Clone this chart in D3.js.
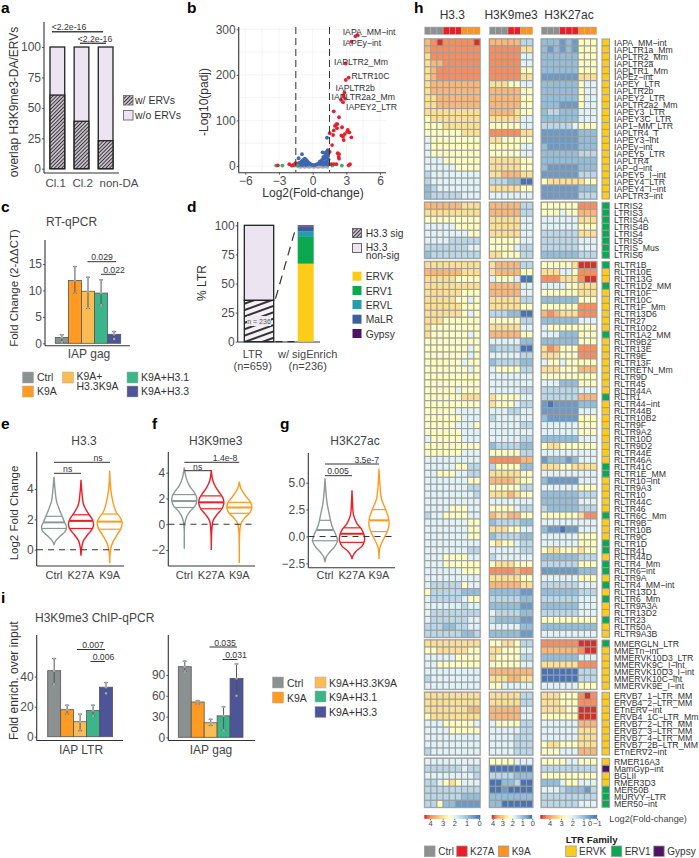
<!doctype html>
<html>

<head>
    <meta charset="utf-8">
    <title>H3K9me3 ERV figure</title>
    <style>
        body { margin: 0; background: #fff; }
        text { font-family: "Liberation Sans", Arial, sans-serif; }
        .axis text { font-size: 12px; fill: #4d4d4d; }
        .axis line { stroke: #333; stroke-width: 0.8; }
    </style>
</head>

<body>
    <div id="chart"></div>
    <script src="https://cdnjs.cloudflare.com/ajax/libs/d3/7.8.5/d3.min.js"></script>
    <script>
        // panel a
        var overlapCats = ["Cl.1", "Cl.2", "non-DA"];
        var overlapWithErv = [60.5, 39, 23];

        // panel b, [log2fc, -log10 padj]
        var volcanoRed = [[3.81, 285], [4.02, 287], [3.45, 273], [2.95, 225], [3.21, 194], [2.95, 189], [2.83, 161], [2.74, 154], [2.53, 145], [2.89, 148], [2.71, 140], [1.88, 120], [2.35, 107], [2.11, 92], [1.99, 88], [2.2, 92], [2.17, 83], [2.62, 85], [1.88, 78], [1.52, 72], [3.13, 79], [3.27, 74], [3.07, 75], [2.86, 70], [2.56, 67], [1.82, 68], [2.77, 57], [2.71, 64], [3.45, 63], [1.73, 46], [1.52, 31], [2.23, 28], [2.35, 26], [2.32, 20], [2.35, 16], [-2.08, 4], [-1.76, 2], [-1.55, 6], [-3.1, 1.5], [1.67, 4], [1.88, 4], [2.11, 4], [3.21, 1.5], [3.33, 4], [-1.85, 1]];
        var volcanoBlue = [[-1.25, 17], [-0.95, 26], [1.28, 62], [0.89, 30], [1.34, 35], [1.22, 31], [1.1, 28], [1.3, 26], [1.15, 22], [0.95, 20], [1.05, 16], [0.85, 14], [1.25, 18], [1.4, 30], [1.38, 22], [1.42, 14], [1.2, 10], [1, 8], [0.8, 8], [0.65, 10], [0.55, 6], [0.4, 4], [0.7, 4], [0.95, 3], [1.2, 4], [1.4, 6], [1.35, 3], [0.3, 3], [0.15, 2], [-1.4, 4], [-1.25, 6], [-1.1, 8], [-0.95, 11], [-0.8, 14], [-0.7, 16], [-0.6, 14], [-0.5, 11], [-0.4, 8], [-0.3, 6], [-0.2, 4], [-0.1, 3], [-1.1, 3], [-0.9, 5], [-0.7, 8], [-0.75, 4], [-0.5, 5], [-0.35, 3], [-1.3, 2], [-0.6, 2], [0.05, 2], [-0.9, 2]];
        var volcanoGreen = [[-3.25, 1], [-2.7, 1], [-1.6, 1], [-1.4, 2], [1.75, 1], [2.6, 1]];
        var volcanoGray = [[-1.3, -1], [-1.1, -2], [-0.9, -1], [-0.7, -2], [-0.5, -1], [-0.3, -2], [-0.1, -1], [0.1, -2], [0.3, -1], [0.5, -2], [0.7, -1], [0.9, -2], [1.1, -1], [1.3, -2]];
        var volcanoLabels = ["IAPA_MM−int", "IAPEy−int", "IAPLTR2_Mm", "RLTR10C", "IAPLTR2b", "IAPLTR2a2_Mm", "IAPEY2_LTR"];

        // panel c
        var treatments = ["Ctrl", "K9A", "K9A+H3.3K9A", "K9A+H3.1", "K9A+H3.3"];
        var rtValues = [1.1, 11.9, 9.85, 9.5, 1.7];
        var rtHigh = [1.6, 14.5, 12.5, 12, 2.2];
        var rtLow = [0.2, 9.45, 6.6, 7.2, 0.8];

        // panel d
        var familyNames = ["ERVK", "ERV1", "ERVL", "MaLR", "Gypsy"];
        var familyShares = [67, 23, 5, 4, 1];
        var ltrSig = 35.5;

        // panels e, f, g: violin outlines as [value, relative width], and quartiles
        var violinNames = ["Ctrl", "K27A", "K9A"];
        var h33Shapes = [
            [[4.8, 0], [4, .08], [3.2, .2], [2.6, .45], [2.2, .65], [1.8, .85], [1.5, 1], [1.2, .9], [.9, .5], [.6, .15], [.35, 0]],
            [[4.6, 0], [3.8, .07], [3, .2], [2.5, .5], [2.2, .75], [1.9, .95], [1.6, 1], [1.3, .85], [1, .55], [.6, .2], [.2, .07], [-.4, 0]],
            [[5.2, 0], [4, .08], [3, .3], [2.5, .5], [2.1, .85], [1.8, 1], [1.4, .9], [1, .6], [.5, .25], [0, .07], [-.9, 0]]
        ];
        var h33Quart = [[2.2, 1.8, 1.4], [2.3, 1.9, 1.4], [2.35, 1.85, 1.35]];
        var k9Shapes = [
            [[4.4, 0], [3.6, .15], [3, .4], [2.6, .7], [2.2, .95], [1.8, 1], [1.4, .85], [1, .45], [.6, .2], [.1, .05], [-1.9, 0]],
            [[4.2, 0], [3.4, .12], [2.8, .4], [2.4, .7], [2, .95], [1.6, 1], [1.2, .85], [.8, .5], [.3, .15], [-.3, .05], [-2, 0]],
            [[3.3, 0], [2.8, .12], [2.2, .5], [1.7, .9], [1.3, 1], [.9, .85], [.5, .45], [.1, .15], [-.4, .05], [-3, 0]]
        ];
        var k9Quart = [[2.3, 1.8, 1.3], [2.2, 1.7, 1.2], [1.7, 1.3, .85]];
        var k27Shapes = [
            [[5.4, 0], [4, .08], [3, .18], [2, .35], [1, .55], [.2, .85], [-.4, 1], [-.9, .8], [-1.5, .35], [-1.9, .1], [-2.4, 0]],
            [[4.3, 0], [3, .05], [2, .12], [1.2, .4], [.7, .75], [.2, .95], [-.4, 1], [-.9, .8], [-1.4, .3], [-1.8, .08], [-2.1, 0]],
            [[6.3, 0], [5, .06], [3.5, .2], [2.6, .5], [1.8, .75], [1, .8], [.3, .6], [-.4, .3], [-1, .08], [-2.1, 0]]
        ];
        var k27Quart = [[1.5, .6, -.4], [.8, .25, -.55], [2.5, 1.5, .45]];

        // panel i
        var ltrValues = [44, 18, 10, 17.5, 33];
        var ltrHigh = [52, 21, 15, 21, 36];
        var ltrLow = [35, 15, 4, 14, 29];
        var gagValues = [102, 51, 21, 31, 85];
        var gagHigh = [110, 53, 26, 44, 106];
        var gagLow = [95, 48, 17, 10, 60];

        // panel h, one string per row, one digit per cell: binned log2 fold change, 0 low to 9 high
        var blockSizes = [23, 8, 54, 7, 9, 7];
        var rowNames = [
            "IAPA_MM−int", "IAPLTR1a_Mm", "IAPLTR2_Mm", "IAPLTR2a", "IAPLTR1_Mm", "IAPEz−int", "IAPEY_LTR", "IAPLTR2b", "IAPEY2_LTR", "IAPLTR2a2_Mm", "IAPEY3_LTR", "IAPEY3C_LTR", "IAP1−MM_LTR", "IAPLTR4_T", "IAPEY3−int", "IAPEy−int", "IAPEY5_LTR", "IAPLTR4", "IAP−d−int", "IAPEY5_I−int", "IAPEY4_LTR", "IAPEY4_I−int", "IAPLTR3−int",
            "LTRIS2", "LTRIS3", "LTRIS4A", "LTRIS4B", "LTRIS4", "LTRIS5", "LTRIS_Mus", "LTRIS6",
            "RLTR1B", "RLTR10E", "RLTR13G", "RLTR1D2_MM", "RLTR10F", "RLTR10C", "RLTR1F_Mm", "RLTR13D6", "RLTR27", "RLTR10D2", "RLTR1A2_MM", "RLTR9B2", "RLTR13E", "RLTR9E", "RLTR13F", "RLTRETN_Mm", "RLTR9D", "RLTR45", "RLTR44A", "RLTR1", "RLTR44−int", "RLTR44B", "RLTR10B2", "RLTR9F", "RLTR9A2", "RLTR10D", "RLTR9D2", "RLTR44E", "RLTR46A", "RLTR41C", "RLTR1E_MM", "RLTR10−int", "RLTR9A3", "RLTR10", "RLTR44C", "RLTR46", "RLTR6C_Mm", "RLTR9B", "RLTR10B", "RLTR9C", "RLTR1D", "RLTR41", "RLTR44D", "RLTR4_Mm", "RLTR6−int", "RLTR9A", "RLTR4_MM−int", "RLTR13D1", "RLTR6_Mm", "RLTR9A3A", "RLTR13D2", "RLTR23", "RLTR50A", "RLTR9A3B",
            "MMERGLN_LTR", "MMETn−int", "MMERVK10D3_LTR", "MMERVK9C_I−int", "MMERVK10D3_I−int", "MMERVK10C−int", "MMERVK9E_I−int",
            "ERVB7_1−LTR_MM", "ERVB4_2−LTR_MM", "ETnERV−int", "ERVB4_1C−LTR_Mm", "ERVB7_2−LTR_MM", "ERVB7_3−LTR_MM", "ERVB7_4−LTR_MM", "ERVB7_2B−LTR_MM", "ETnERV2−int",
            "RMER16A3", "MamGyp−int", "BGLII", "RMER3D3", "MER50B", "MURVY−LTR", "MER50−int"
        ];
        var rowFamily = ("KKKKKKKKKKKKKKKKKKKKKKK" + "11111111" +
            "1KK1KKKKKK1KKKKKKKK1KKKKKKKKK11KKKKK1KKK11K11K1K1KK1KK" +
            "1KKKKKK" + "KKKKKKKKK" + "KGKK111").split("");
        var h33Levels = [
            "789888889", "788888888", "688888888", "677888888", "678888888", "678888888", "677777777", "677777777", "667777777", "667777777", "666666666", "566666666", "555666666", "555555666", "455555555", "455555555", "455555555", "444555555", "444445555", "344444444", "344444444", "234444444", "233333444",
            "777777666", "666666666", "555555555", "444445555", "444444455", "444433333", "333333344", "233333333",
            "666666666", "777777666", "666665555", "666666666", "666666555", "666665545", "666666555", "666666545", "666555555", "655555555", "655555545", "555555555", "555555545", "555555545", "555555455", "555555545", "555555555", "555555555", "555554555", "555555666", "555555555", "555554444", "555555444", "555554445", "555555444", "455555444", "555555555", "555555444", "444444444", "444445533", "445554433", "444444455", "444444433", "444444443", "444444444", "444455544", "344555544", "444444455", "444444455", "444444455", "444444444", "444444433", "444555544", "444555555", "444444555", "444444444", "433333544", "533333222", "433333455", "444444344", "433333333", "433333344", "333223344", "333333223",
            "666666666", "556666655", "444445555", "445555555", "444444444", "344444444", "444444444",
            "666666666", "666666666", "666666677", "566666666", "444555554", "444455555", "444444444", "444444444", "344444444",
            "444444444", "333333433", "444444443", "334565444", "333333333", "333333222", "335221111"
        ];
        var k9Levels = [
            "7777733", "8888866", "8888844", "8888844", "8888855", "8888866", "6665544", "7777755", "7777755", "7777755", "7777655", "6666644", "5555544", "8888866", "6655555", "5555544", "5555544", "6666655", "6666655", "6677766", "3332200", "6666655", "4444444",
            "7777733", "7777733", "6666644", "6666644", "6666644", "5555544", "5555433", "6655533",
            "6777733", "6777755", "4555400", "7777744", "7777744", "6666633", "6666655", "3332200", "5555533", "6666644", "7777755", "4444422", "2333300", "4444433", "2333322", "4555533", "4444444", "4444444", "4444433", "6555544", "6555433", "4443344", "3444444", "4444433", "4444444", "4444433", "2333322", "5555533", "8888877", "3555522", "6666655", "7777655", "5555533", "6667655", "4444444", "5555433", "7667755", "2333322", "6665544", "2333322", "5655433", "4444433", "3444444", "5666555", "8888788", "6666655", "7777766", "2222211", "3333322", "2222211", "4333322", "3222211", "4444422", "2222211",
            "5566533", "6655544", "6555533", "5555544", "7777777", "6667766", "5544444",
            "6666633", "6666633", "7777744", "7777744", "4555533", "4444433", "4444333", "4444333", "4444333",
            "5555444", "0000000", "3333222", "0022300", "0010000", "2222222", "2200000"
        ];
        var k27Levels = [
            "222121555", "212121555", "222222555", "222222555", "222222555", "111111666", "222222544", "222222544", "222222544", "222111544", "233222444", "222222444", "333334555", "111111222", "111111222", "211111222", "222222333", "222222222", "211111222", "111111333", "566666655", "111111222", "111111333",
            "555555888", "555455777", "444444666", "444444555", "333333666", "333333444", "333333444", "222222333",
            "555556999", "666445888", "888666899", "444455666", "555555666", "222222555", "555555888", "787666888", "222222444", "455555555", "444222555", "222222555", "687555888", "666555888", "455455555", "666555777", "555555555", "444222555", "333333444", "333333777", "101111222", "111111444", "211111555", "444444555", "444444555", "222222444", "566555555", "444444444", "122212444", "666556666", "444444444", "211111444", "444444555", "222222333", "222222444", "322222333", "555555688", "444444444", "211011444", "444444555", "444444555", "566555655", "222222333", "333333555", "111111222", "444444555", "333333444", "222222333", "333333444", "222222444", "333333444", "555555555", "222222222", "444444444",
            "888888999", "777777899", "222222444", "666666888", "000000333", "000000333", "444444555",
            "666555898", "666555888", "666655999", "555555999", "444444777", "444444666", "444444666", "566555666", "555444777",
            "555544555", "333333333", "555555555", "222455444", "444322213", "333333333", "333333444"
        ];
        var heatSamples = [
            { title: "H3.3", levels: h33Levels, groups: [3, 3, 3] },
            { title: "H3K9me3", levels: k9Levels, groups: [3, 2, 2] },
            { title: "H3K27ac", levels: k27Levels, groups: [3, 3, 3] }
        ];

        var width = 699, height = 858;
        var ink = "#333", tickInk = "#4d4d4d";
        var grayC = "#8b9190", redC = "#ee1c25", orangeC = "#ff931e";
        var barColors = ["#8b9190", "#ff9a22", "#fbbc55", "#3db58a", "#4d5497"];
        var famColors = { K: "#fdcb1a", "1": "#0aa84f", G: "#4e1462" };
        var lilac = "#ece4f0";

        var svg = d3.select("#chart").append("svg").attr("width", width).attr("height", height);

        var defs = svg.append("defs");
        function hatch(id, size, angle, sw, bg) {
            var p = defs.append("pattern").attr("id", id).attr("patternUnits", "userSpaceOnUse")
                .attr("width", size).attr("height", size).attr("patternTransform", `rotate(${angle})`);
            p.append("rect").attr("width", size).attr("height", size).attr("fill", bg);
            p.append("line").attr("x1", 0).attr("x2", size).attr("y1", size / 2).attr("y2", size / 2)
                .attr("stroke", "#333").attr("stroke-width", sw);
        }
        hatch("denseHatch", 2.6, -45, 1.2, "#e6dcea");
        hatch("wideHatch", 6, -20, 2, "#f5f0f7");

        function txt(x, y, s, size, opts) {
            opts = opts || {};
            return svg.append("text").attr("x", x).attr("y", y).text(s)
                .attr("font-size", size)
                .attr("fill", opts.fill || ink)
                .attr("font-weight", opts.bold ? "bold" : null)
                .attr("text-anchor", opts.anchor || "start");
        }
        function vtxt(x, y, s, size) {
            svg.append("text").attr("transform", `translate(${x},${y}) rotate(-90)`)
                .text(s).attr("font-size", size).attr("fill", ink).attr("text-anchor", "middle");
        }
        function seg(x1, y1, x2, y2, color, w, dash) {
            return svg.append("line").attr("x1", x1).attr("y1", y1).attr("x2", x2).attr("y2", y2)
                .attr("stroke", color || ink).attr("stroke-width", w || 1)
                .attr("stroke-dasharray", dash || null);
        }
        function leftAxis(x, scale, ticks, fmt) {
            var a = d3.axisLeft(scale).tickValues(ticks).tickSize(2).tickPadding(1).tickFormat(fmt || d3.format("d"));
            var g = svg.append("g").attr("class", "axis").attr("transform", `translate(${x},0)`).call(a);
            g.select(".domain").remove();
            return g;
        }
        function frame(x, top, bottom, right) {
            seg(x, top, x, bottom, ink, 1.1);
            seg(x, bottom, right, bottom, ink, 1.1);
        }

        // panel letters
        [["a", 1, 13], ["b", 187, 13], ["c", 1, 212], ["d", 187, 212], ["e", 1, 429], ["f", 152, 429], ["g", 280, 429], ["h", 414, 13], ["i", 1, 603]]
            .forEach(d => txt(d[1], d[2], d[0], 15.5, { bold: true, fill: "#000" }));

        // a
        var xA = d3.scaleBand(overlapCats, [50, 113]).paddingInner(0.39);
        var yA = d3.scaleLinear([0, 100], [168.7, 47]);
        frame(44, 22, 173, 119);
        leftAxis(44, yA, [0, 25, 50, 75, 100]);
        svg.selectAll(".barA").data(overlapCats).join("rect")
            .attr("x", d => xA(d)).attr("width", xA.bandwidth())
            .attr("y", yA(100)).attr("height", yA(0) - yA(100))
            .attr("fill", lilac).attr("stroke", "#222").attr("stroke-width", 1.3);
        svg.selectAll(".hatchA").data(overlapCats).join("rect")
            .attr("x", d => xA(d)).attr("width", xA.bandwidth())
            .attr("y", (d, i) => yA(overlapWithErv[i])).attr("height", (d, i) => yA(0) - yA(overlapWithErv[i]))
            .attr("fill", "url(#denseHatch)").attr("stroke", "#222").attr("stroke-width", 1.3);
        [55.7, 82.7, 119].forEach((x, i) => txt(x, 187, overlapCats[i], 11.5, { anchor: "middle", fill: tickInk }));
        vtxt(18, 102, "overlap H3K9me3-DA/ERVs", 12);
        seg(52, 31.7, 103, 31.7, "#444", 1.4);
        seg(80, 43.3, 106, 43.3, "#444", 1.4);
        txt(69, 30, "<2.2e-16", 8.7, { anchor: "middle" });
        txt(95, 41.5, "<2.2e-16", 8.7, { anchor: "middle" });
        svg.append("rect").attr("x", 123.5).attr("y", 95.5).attr("width", 9.5).attr("height", 9.5).attr("fill", "url(#denseHatch)").attr("stroke", "#777");
        svg.append("rect").attr("x", 123.5).attr("y", 110.5).attr("width", 9.5).attr("height", 9.5).attr("fill", lilac).attr("stroke", "#777");
        txt(135, 103.5, "w/ ERVs", 10.5);
        txt(135, 118.5, "w/o ERVs", 10.5);

        // b
        var xB = d3.scaleLinear([-6, 6], [245.3, 380]);
        var yB = d3.scaleLinear([0, 300], [166, 29.3]);
        [-6, -4.5, -3, -1.5, 0, 1.5, 3, 4.5, 6].forEach(v => seg(xB(v), 27, xB(v), 172, "#ececec", 0.6));
        [0, 50, 100, 150, 200, 250, 300].forEach(v => seg(239, yB(v), 386, yB(v), "#ececec", 0.6));
        frame(238.7, 27, 172.7, 386);
        leftAxis(238.7, yB, [0, 100, 200, 300]);
        var gBx = svg.append("g").attr("class", "axis").attr("transform", "translate(0,172.7)")
            .call(d3.axisBottom(xB).tickValues([-6, -3, 0, 3, 6]).tickSize(2).tickPadding(2).tickFormat(d3.format("d")));
        gBx.select(".domain").remove();
        [[volcanoGray, "#aaa"], [volcanoBlue, "#3f66ae"], [volcanoGreen, "#35b36b"], [volcanoRed, "#e8202e"]].forEach(d => {
            svg.append("g").selectAll("circle").data(d[0]).join("circle")
                .attr("cx", p => xB(p[0])).attr("cy", p => yB(p[1])).attr("r", 1.9).attr("fill", d[1]);
        });
        seg(xB(-1.5), 27, xB(-1.5), 172, "#333", 1, "7 4");
        seg(xB(1.5), 27, xB(1.5), 172, "#333", 1, "7 4");
        var labelSpots = [[342.7, 35], [342.7, 46], [334, 65], [351.5, 79], [335.5, 90.5], [331.5, 100], [346, 110]];
        volcanoLabels.forEach((s, i) => txt(labelSpots[i][0], labelSpots[i][1], s, 8.7));
        vtxt(208, 102, "-Log10(padj)", 12);
        txt(313, 197, "Log2(Fold-change)", 12, { anchor: "middle" });

        // bars with error bars, used by c and i
        function errorBars(x0, x1, y, values, high, low, axisX, axisTop, bottom, right, ticks) {
            var xs = d3.scaleBand(treatments, [x0, x1]);
            frame(axisX, axisTop, bottom, right);
            leftAxis(axisX, y, ticks);
            svg.append("g").selectAll("rect").data(treatments).join("rect")
                .attr("x", d => xs(d)).attr("width", xs.bandwidth())
                .attr("y", (d, i) => y(values[i])).attr("height", (d, i) => y(0) - y(values[i]))
                .attr("fill", (d, i) => barColors[i]).attr("stroke", "#555").attr("stroke-width", 0.8);
            treatments.forEach((t, i) => {
                var cx = xs(t) + xs.bandwidth() / 2;
                seg(cx, y(high[i]), cx, y(low[i]), "#555", 1);
                seg(cx - 2, y(high[i]), cx + 2, y(high[i]), "#555", 1);
                seg(cx - 2, y(low[i]), cx + 2, y(low[i]), "#555", 1);
                [high[i], low[i], values[i]].forEach(v => svg.append("circle").attr("cx", cx).attr("cy", y(v)).attr("r", 1.2).attr("fill", "#aaa"));
            });
            return xs;
        }
        function legendSquare(x, y, color, w) {
            svg.append("rect").attr("x", x).attr("y", y).attr("width", w || 11).attr("height", w || 11)
                .attr("fill", color).attr("stroke", "#aaa").attr("stroke-width", 0.5);
        }

        // c
        var yC = d3.scaleLinear([0, 15], [343.3, 264]);
        errorBars(55.3, 120.7, yC, rtValues, rtHigh, rtLow, 45, 240, 345.7, 130, [0, 5, 10, 15]);
        txt(46, 226, "RT-qPCR", 12, { fill: "#444" });
        txt(89, 358, "IAP gag", 12, { anchor: "middle", fill: "#444" });
        vtxt(18, 288, "Fold Change (2-ΔΔCT)", 11.5);
        seg(87.5, 261.7, 116, 261.7, "#333", 1);
        seg(101, 274.3, 116, 274.3, "#333", 1);
        txt(102, 260, "0.029", 8.7, { anchor: "middle" });
        txt(114, 272.5, "0.022", 8.7, { anchor: "middle" });
        legendSquare(22.5, 372, barColors[0]);
        legendSquare(22.5, 386, barColors[1]);
        legendSquare(62.5, 372, barColors[2]);
        legendSquare(127, 372, barColors[3]);
        legendSquare(127, 386, barColors[4]);
        txt(37, 381, "Ctrl", 10.5);
        txt(37, 395, "K9A", 10.5);
        txt(76.5, 380, "K9A+", 10.5);
        txt(76.5, 390, "H3.3K9A", 10.5);
        txt(141, 381, "K9A+H3.1", 10.5);
        txt(141, 395, "K9A+H3.3", 10.5);

        // d
        var yD = d3.scaleLinear([0, 100], [341.7, 225.3]);
        frame(237.7, 222, 342, 320);
        leftAxis(237.7, yD, [0, 25, 50, 75, 100]);
        svg.append("rect").attr("x", 244.3).attr("width", 29.4).attr("y", yD(100)).attr("height", yD(ltrSig) - yD(100))
            .attr("fill", lilac).attr("stroke", "#222").attr("stroke-width", 1.3);
        svg.append("rect").attr("x", 244.3).attr("width", 29.4).attr("y", yD(ltrSig)).attr("height", yD(0) - yD(ltrSig))
            .attr("fill", "url(#wideHatch)").attr("stroke", "#222").attr("stroke-width", 1.3);
        svg.append("rect").attr("x", 247).attr("width", 24).attr("y", yD(ltrSig / 2) - 5).attr("height", 10).attr("fill", "#efe9f2");
        txt(259, yD(ltrSig / 2) + 2.5, "n = 236", 7, { anchor: "middle", fill: "#555" });
        var famOrder = d3.cumsum(familyShares);
        var famFill = ["#fdcb1a", "#0aa84f", "#2a9ba8", "#3a6199", "#4e1462"];
        svg.append("g").selectAll("rect").data(familyNames).join("rect")
            .attr("x", 297.7).attr("width", 16)
            .attr("y", (d, i) => yD(famOrder[i]))
            .attr("height", (d, i) => yD(famOrder[i] - familyShares[i]) - yD(famOrder[i]))
            .attr("fill", (d, i) => famFill[i]);
        seg(275.5, yD(37), 296, yD(98.5), "#333", 1.2, "9 6");
        seg(275.5, yD(0), 296, yD(0), "#333", 1.2, "7 5");
        vtxt(206, 283, "% LTR", 12);
        txt(252.7, 358, "LTR", 11, { anchor: "middle", fill: "#444" });
        txt(252.7, 369.5, "(n=659)", 11, { anchor: "middle", fill: "#444" });
        txt(307.7, 358, "w/ sigEnrich", 11, { anchor: "middle", fill: "#444" });
        txt(307.7, 369.5, "(n=236)", 11, { anchor: "middle", fill: "#444" });
        svg.append("rect").attr("x", 352.5).attr("y", 228.5).attr("width", 9).attr("height", 9).attr("fill", "url(#denseHatch)").attr("stroke", "#666");
        svg.append("rect").attr("x", 352.5).attr("y", 243.5).attr("width", 9).attr("height", 9).attr("fill", lilac).attr("stroke", "#666");
        txt(365.7, 237, "H3.3 sig", 10.3);
        txt(365.7, 251, "H3.3", 10.3);
        txt(365.7, 259, "non-sig", 10.3);
        familyNames.forEach((f, i) => {
            var top = [271.7, 286, 300, 314.7, 329][i];
            svg.append("rect").attr("x", 352.5).attr("y", top).attr("width", 9).attr("height", 9).attr("fill", famFill[i]);
            txt(365.7, top + 8.5, f, 10.3);
        });

        // e f g
        var violinColors = ["#8b9a97", "#ee1c25", "#ff9a1a"];
        function violins(centers, y, shapes, quartiles, maxW) {
            var line = d3.line().curve(d3.curveCatmullRom);
            shapes.forEach((shape, i) => {
                var cx = centers[i], w = maxW;
                var right = shape.map(d => [cx + d[1] * w, y(d[0])]);
                var left = shape.slice().reverse().map(d => [cx - d[1] * w, y(d[0])]);
                svg.append("path").attr("d", line(right.concat(left)) + "Z")
                    .attr("fill", "#fff").attr("stroke", violinColors[i]).attr("stroke-width", 1.4);
                quartiles[i].forEach((q, k) => {
                    var hw = w * widthAt(shape, q);
                    seg(cx - hw, y(q), cx + hw, y(q), violinColors[i], k == 1 ? 2 : 1.2);
                });
            });
        }
        function widthAt(shape, v) {
            for (var i = 1; i < shape.length; i++) {
                if (v >= shape[i][0]) {
                    var t = (v - shape[i][0]) / (shape[i - 1][0] - shape[i][0]);
                    return shape[i][1] + t * (shape[i - 1][1] - shape[i][1]);
                }
            }
            return 0;
        }
        function violinLabels(centers, base) {
            violinNames.forEach((n, i) => txt(centers[i], base, n, 11, { anchor: "middle", fill: "#444" }));
        }

        var yE = d3.scaleLinear([0, 4], [549.7, 489]);
        var cE = [54, 81, 109.7];
        frame(36.7, 451.7, 566, 124);
        leftAxis(36.7, yE, [0, 2, 4]);
        violins(cE, yE, h33Shapes, h33Quart, 12.5);
        seg(37, yE(0), 124, yE(0), "#333", 1.1, "6 5");
        violinLabels(cE, 579);
        txt(84, 445, "H3.3", 12, { anchor: "middle", fill: "#444" });
        vtxt(18, 513, "Log2 Fold Change", 11.5);
        seg(54, 473.3, 81, 473.3, "#333", 1);
        seg(54, 462.3, 110, 462.3, "#333", 1);
        txt(67.7, 472, "ns", 8.7, { anchor: "middle" });
        txt(98, 461, "ns", 8.7, { anchor: "middle" });

        var yF = d3.scaleLinear([-2, 4], [550, 472.7]);
        var cF = [184.3, 211.3, 239.3];
        frame(168.3, 452, 566, 255);
        leftAxis(168.3, yF, [-2, 0, 2, 4]);
        violins(cF, yF, k9Shapes, k9Quart, 12.5);
        seg(168.5, yF(0), 255, yF(0), "#333", 1.1, "6 5");
        violinLabels(cF, 579);
        txt(215.7, 445, "H3K9me3", 12, { anchor: "middle", fill: "#444" });
        seg(184.3, 470.7, 211.3, 470.7, "#333", 1);
        seg(184.3, 462.3, 239.3, 462.3, "#333", 1);
        txt(197.7, 469.5, "ns", 8.7, { anchor: "middle" });
        txt(225, 461, "1.4e-8", 8.7, { anchor: "middle" });

        var yG = d3.scaleLinear([-2.5, 5], [563.3, 482.7]);
        var cG = [325, 352, 379];
        frame(308.3, 453, 567.7, 395);
        leftAxis(308.3, yG, [-2.5, 0, 2.5, 5], d3.format(".1f"));
        violins(cG, yG, k27Shapes, k27Quart, 12.5);
        seg(308.5, yG(0), 395, yG(0), "#333", 1.1, "6 5");
        violinLabels(cG, 579);
        txt(355, 445, "H3K27ac", 12, { anchor: "middle", fill: "#444" });
        seg(325, 475.7, 352, 475.7, "#333", 1);
        seg(325, 464, 379, 464, "#333", 1);
        txt(338, 474, "0.005", 8.7, { anchor: "middle" });
        txt(366.7, 462.5, "3.5e-7", 8.7, { anchor: "middle" });

        // i
        var yI1 = d3.scaleLinear([0, 40], [736.7, 676.7]);
        var yI2 = d3.scaleLinear([0, 90], [737.3, 675]);
        errorBars(47.7, 112.5, yI1, ltrValues, ltrHigh, ltrLow, 36.7, 635, 740.5, 123, [0, 20, 40]);
        errorBars(178.3, 243, yI2, gagValues, gagHigh, gagLow, 168.3, 635, 740.5, 255, [0, 30, 60, 90]);
        txt(35, 622, "H3K9me3 ChIP-qPCR", 12, { fill: "#444" });
        txt(81, 753.5, "IAP LTR", 12, { anchor: "middle", fill: "#444" });
        txt(211, 753.5, "IAP gag", 12, { anchor: "middle", fill: "#444" });
        vtxt(18, 680.7, "Fold enrich. over input", 12);
        seg(77, 649.5, 105, 649.5, "#333", 1);
        seg(90.5, 661.5, 105, 661.5, "#333", 1);
        txt(93, 648, "0.007", 8.7, { anchor: "middle" });
        txt(103.5, 660, "0.006", 8.7, { anchor: "middle" });
        seg(209.5, 647, 237, 647, "#333", 1);
        seg(222.5, 659.5, 237.5, 659.5, "#333", 1);
        txt(225, 645.5, "0.035", 8.7, { anchor: "middle" });
        txt(236, 657.5, "0.031", 8.7, { anchor: "middle" });
        [[272.5, 677, 0, "Ctrl", 287], [272.5, 692, 1, "K9A", 287], [315, 677, 2, "K9A+H3.3K9A", 329], [315, 691, 3, "K9A+H3.1", 329], [315, 706.5, 4, "K9A+H3.3", 329]].forEach(d => {
            legendSquare(d[0], d[1], barColors[d[2]]);
            txt(d[4], d[1] + 9.5, d[3], 10.5);
        });

        // h
        var heatColor = d3.scaleLinear().domain([0, 2, 4, 5, 6, 8, 9])
            .range(["#4575b4", "#91bfdb", "#e0f3f8", "#ffffbf", "#fee090", "#fc8d59", "#d73027"]);
        var blockTop = [39, 202.3, 261.6, 640, 692.3, 758.3];
        var blockBottom = [199, 258.3, 637.3, 689.3, 755, 807.3];
        var trackX = [[424.7, 480], [489.5, 532.7], [541.3, 596.7]];
        var cellStroke = "#9c9c9c";

        heatSamples.forEach((sample, s) => {
            var n = sample.groups[0] + sample.groups[1] + sample.groups[2];
            var x = d3.scaleBand(d3.range(n), trackX[s]);
            txt((trackX[s][0] + trackX[s][1]) / 2, 19, sample.title, 12, { anchor: "middle", fill: "#333" });
            svg.append("g").selectAll("rect").data(d3.range(n)).join("rect")
                .attr("x", d => x(d)).attr("y", 27).attr("width", x.bandwidth()).attr("height", 7.5)
                .attr("fill", d => d < sample.groups[0] ? grayC : d < sample.groups[0] + sample.groups[1] ? redC : orangeC)
                .attr("stroke", "#b5b5b5").attr("stroke-width", 0.5);
            var start = 0;
            blockSizes.forEach((size, b) => {
                var names = rowNames.slice(start, start + size);
                var levels = sample.levels.slice(start, start + size);
                var y = d3.scaleBand(names, [blockTop[b], blockBottom[b]]);
                svg.append("rect").attr("x", trackX[s][0]).attr("y", blockTop[b])
                    .attr("width", trackX[s][1] - trackX[s][0]).attr("height", blockBottom[b] - blockTop[b])
                    .attr("fill", "none").attr("stroke", "#c4c4c4").attr("stroke-width", 2);
                names.forEach((name, r) => {
                    svg.append("g").selectAll("rect").data(levels[r].split("")).join("rect")
                        .attr("x", (d, i) => x(i)).attr("y", y(name))
                        .attr("width", x.bandwidth()).attr("height", y.bandwidth())
                        .attr("fill", d => heatColor(+d)).attr("stroke", cellStroke).attr("stroke-width", 1);
                });
                start += size;
            });
        });

        var startRow = 0;
        blockSizes.forEach((size, b) => {
            var names = rowNames.slice(startRow, startRow + size);
            var fam = rowFamily.slice(startRow, startRow + size);
            var y = d3.scaleBand(names, [blockTop[b], blockBottom[b]]);
            svg.append("g").selectAll("rect").data(names).join("rect")
                .attr("x", 602).attr("width", 7.5).attr("y", d => y(d)).attr("height", y.bandwidth())
                .attr("fill", (d, i) => famColors[fam[i]]).attr("stroke", cellStroke).attr("stroke-width", 1);
            svg.append("g").selectAll("text").data(names).join("text")
                .attr("x", 614).attr("y", d => y(d) + y.bandwidth() / 2 + 3.2).text(d => d)
                .attr("font-size", 8.7).attr("fill", "#333");
            startRow += size;
        });

        // colour bars
        var barTicks = [[4, 3, 2, 1, 0], [4, 3, 2, 1, 0], [4, 3, 2, 1, 0, -1]];
        var barRange = [[430, 442.7, 454.3, 466.7, 479], [492.7, 502.3, 512.3, 522.3, 532.3], [549.5, 561, 572.3, 583.5, 589.5, 597]];
        var barSpan = [[424.3, 480], [491.7, 531.7], [540.3, 596.7]];
        var colorStops = d3.range(0, 9.01, 0.25).reverse();
        barTicks.forEach((ticks, i) => {
            var pos = d3.scaleBand(colorStops, barSpan[i]);
            svg.append("g").selectAll("rect").data(colorStops).join("rect")
                .attr("x", d => pos(d)).attr("y", 815).attr("width", pos.bandwidth() + 0.4).attr("height", 3.8)
                .attr("fill", d => heatColor(d));
            var scale = d3.scaleLinear(ticks, barRange[i]);
            var g = svg.append("g").attr("transform", "translate(0,818.8)")
                .call(d3.axisBottom(scale).tickValues(ticks).tickSize(1.5).tickPadding(0.5).tickFormat(d3.format("d")));
            g.select(".domain").remove();
            g.selectAll("text").attr("font-size", 7.5).attr("fill", "#444");
            g.selectAll("line").attr("stroke", "#666");
        });
        txt(609.3, 821.7, "Log2(Fold-change)", 9.2, { fill: "#444" });

        // bottom legends
        [[424.5, grayC, "Ctrl", 438.3], [456.7, redC, "K27A", 470], [498.3, orangeC, "K9A", 511.7], [565.7, famColors.K, "ERVK", 579], [611.3, famColors["1"], "ERV1", 624.7], [653.7, famColors.G, "Gypsy", 667.3]].forEach(d => {
            svg.append("rect").attr("x", d[0]).attr("y", 846).attr("width", 10.5).attr("height", 10.5)
                .attr("fill", d[1]).attr("stroke", "#999").attr("stroke-width", 0.8);
            txt(d[3], 854.5, d[2], 10, { fill: "#333" });
        });
        txt(565.7, 843.3, "LTR Family", 9.8, { bold: true, fill: "#222" });

    </script>
</body>

</html>
